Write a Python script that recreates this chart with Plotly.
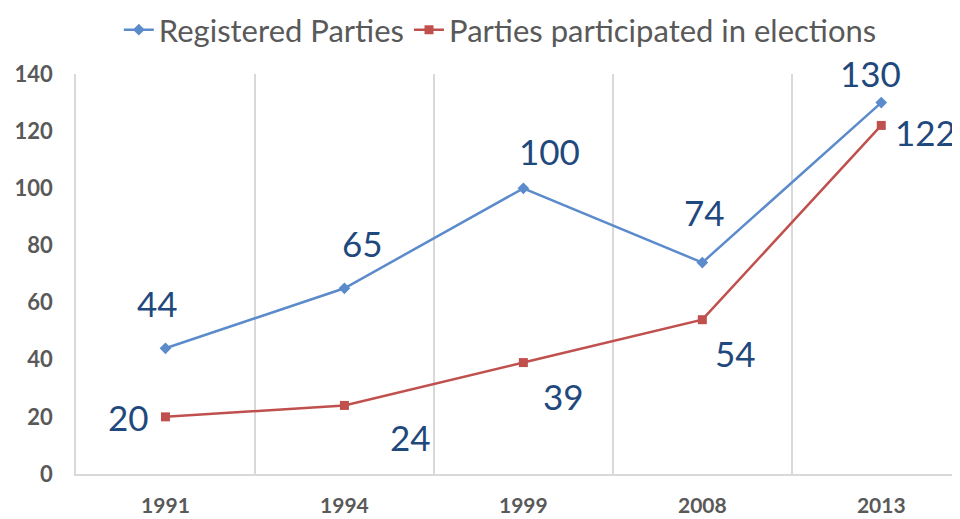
import plotly.graph_objects as go

anos = ["1991", "1994", "1999", "2008", "2013"]
registrados = [44, 65, 100, 74, 130]
participaram = [20, 24, 39, 54, 122]

# deslocamento dos rótulos (px) em relação ao ponto
desl_reg = [(-8, 45), (18, 45), (26, 37), (2, 51), (-11, 30)]
desl_part = [(-37, 0), (66, -32), (40, -33), (33, -33), (44, -7)]

azul = "#5B8BCB"
vermelho = "#C0504D"
cor_rotulo = "#1F497D"
cinza = "#595959"
fonte = "Lato, Open Sans, sans-serif"

fig = go.Figure()

fig.add_trace(go.Scatter(
    x=anos, y=registrados,
    mode="lines+markers",
    name="Registered Parties",
    line=dict(color=azul, width=2.5),
    marker=dict(symbol="diamond", size=9, color=azul),
))

fig.add_trace(go.Scatter(
    x=anos, y=participaram,
    mode="lines+markers",
    name="Parties participated in elections",
    line=dict(color=vermelho, width=2.5),
    marker=dict(symbol="square", size=9, color=vermelho),
))

# rótulos de dados (eixo categórico -> usar o índice da categoria)
anotacoes = []
for serie, desl in [(registrados, desl_reg), (participaram, desl_part)]:
    for i, (v, (dx, dy)) in enumerate(zip(serie, desl)):
        anotacoes.append(dict(
            x=i, y=v, xref="x", yref="y",
            text=str(v), showarrow=False,
            xshift=dx, yshift=dy,
            font=dict(size=35, color=cor_rotulo, family=fonte),
        ))

# a página tem margem de 8px no body, por isso 952x511
fig.update_layout(
    width=952,
    height=511,
    margin=dict(l=68, r=0, t=66, b=45, autoexpand=False),
    plot_bgcolor="white",
    paper_bgcolor="white",
    font=dict(family=fonte, color=cinza),
    showlegend=True,
    legend=dict(
        orientation="h",
        x=0.48, xanchor="center",
        y=1.11, yanchor="middle",
        font=dict(size=31, color=cinza),
        itemwidth=30,
    ),
    annotations=anotacoes,
    xaxis=dict(
        type="category",
        range=[-0.5, 4.44],
        tickson="boundaries",
        showgrid=True,
        gridcolor="#D9D9D9",
        gridwidth=1.5,
        showline=True,
        linecolor="#D9D9D9",
        linewidth=1.5,
        ticks="",
        tickfont=dict(size=21, color=cinza, family=fonte, weight="bold"),
        ticklabelstandoff=12,
        zeroline=False,
        automargin=False,
    ),
    yaxis=dict(
        range=[0, 140],
        dtick=20,
        showgrid=False,
        showline=True,
        linecolor="#D9D9D9",
        linewidth=1.5,
        ticks="",
        tickfont=dict(size=22, color=cinza, family=fonte, weight="bold"),
        ticklabelstandoff=17,
        zeroline=False,
        automargin=False,
    ),
)

fig.write_html("out.html")
